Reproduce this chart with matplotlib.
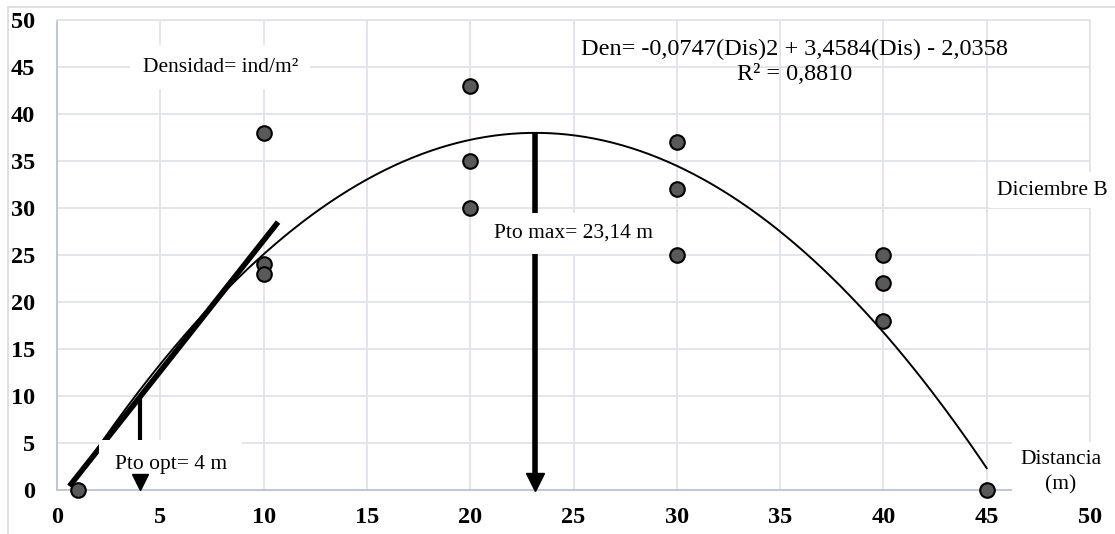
import numpy as np
import matplotlib
matplotlib.use("Agg")
import matplotlib.pyplot as plt
from matplotlib.patches import Rectangle

# muestras: distancia (m) y densidad (ind/m2)
dist = [1, 10, 10, 10, 20, 20, 20, 30, 30, 30, 40, 40, 40, 45]
dens = [0, 38, 24, 23, 43, 35, 30, 37, 32, 25, 25, 22, 18, 0]

# ajuste polinomico de 2do grado
coef = [-0.0747, 3.4584, -2.0358]
r2 = 0.8810

# tangente trazada a mano y puntos marcados
tangent_x = [0.6, 10.7]
tangent_y = [0.4, 28.5]
pto_opt = 4
pto_opt_top = 10
pto_max = 23.14

x_ticks = list(range(0, 55, 5))
y_ticks = list(range(0, 55, 5))

plt.rcParams["font.family"] = ["Liberation Serif", "DejaVu Serif"]

fig = plt.figure(figsize=(11.15, 5.34), dpi=100)
fig.patches.append(Rectangle((8 / 1115, -0.1), 1.2, 1 - 7 / 534 + 0.1,
                             transform=fig.transFigure, fill=False,
                             edgecolor="#d9d9d9", linewidth=1.2))
ax = fig.add_axes([57 / 1115, 1 - 490 / 534, 1033 / 1115, 470 / 534])

grid_c = "#dfe3eb"
ax.set_xlim(0, 50)
ax.set_ylim(0, 50)
ax.set_xticks(x_ticks)
ax.set_yticks(y_ticks)
ax.grid(True, color=grid_c, linewidth=1.3, zorder=0)
ax.set_axisbelow(True)
for s in ["top", "right"]:
    ax.spines[s].set_color(grid_c)
    ax.spines[s].set_linewidth(1.3)
for s in ["left", "bottom"]:
    ax.spines[s].set_color("#b7c4da")
    ax.spines[s].set_linewidth(1.3)
ax.tick_params(length=0, labelsize=17.5)
ax.tick_params(axis="x", pad=12)
ax.tick_params(axis="y", pad=16)
for lab in ax.get_xticklabels() + ax.get_yticklabels():
    lab.set_fontweight("bold")

# curva de tendencia
xc = np.linspace(min(dist), max(dist), 300)
yc = np.polyval(coef, xc)

ax.plot(tangent_x, tangent_y, color="black", linewidth=4, zorder=3,
        solid_capstyle="butt")
ax.plot(xc, yc, color="black", linewidth=1.4, zorder=4)

ax.scatter(dist, dens, s=110, color="#595959", edgecolor="black",
           linewidth=1.5, zorder=6, clip_on=False)

# flechas verticales
y_max = np.polyval(coef, pto_max)
ax.plot([pto_max, pto_max], [y_max, 1.5], color="black", linewidth=4,
        zorder=3, solid_capstyle="butt")
ax.plot(pto_max, 0.9, marker="v", markersize=13, color="black", zorder=7,
        clip_on=False)
ax.plot([pto_opt, pto_opt], [pto_opt_top, 1.2], color="black", linewidth=3,
        zorder=3, solid_capstyle="butt")
ax.plot(pto_opt, 0.85, marker="v", markersize=11, color="black", zorder=7,
        clip_on=False)

box = dict(facecolor="white", edgecolor="none", pad=6)
txt = dict(fontsize=15.5, ha="center", va="center", zorder=5)

ax.text(7.9, 45, "Densidad= ind/m²", bbox=dict(facecolor="white",
        edgecolor="none", pad=9), **txt)
ax.text(25.0, 27.3, "Pto max= 23,14 m", bbox=dict(facecolor="white",
        edgecolor="none", pad=8), **txt)
ax.text(5.5, 2.7, "Pto opt= 4 m", bbox=dict(facecolor="white",
        edgecolor="none", pad=11), **txt)
eq = "Den= -0,0747(Dis)2 + 3,4584(Dis) - 2,0358\nR² = {:.4f}".format(r2)
ax.text(35.7, 45.5, eq.replace("0.", "0,"), fontsize=17.5, ha="center",
        va="center", zorder=5, linespacing=1.25)
ax.text(48.2, 31.9, "Diciembre B", bbox=box, clip_on=False, **txt)
ax.text(48.6, 1.9, "Distancia\n(m)", bbox=box, clip_on=False,
        linespacing=1.4, **txt)

fig.savefig("out.png", dpi=100)
